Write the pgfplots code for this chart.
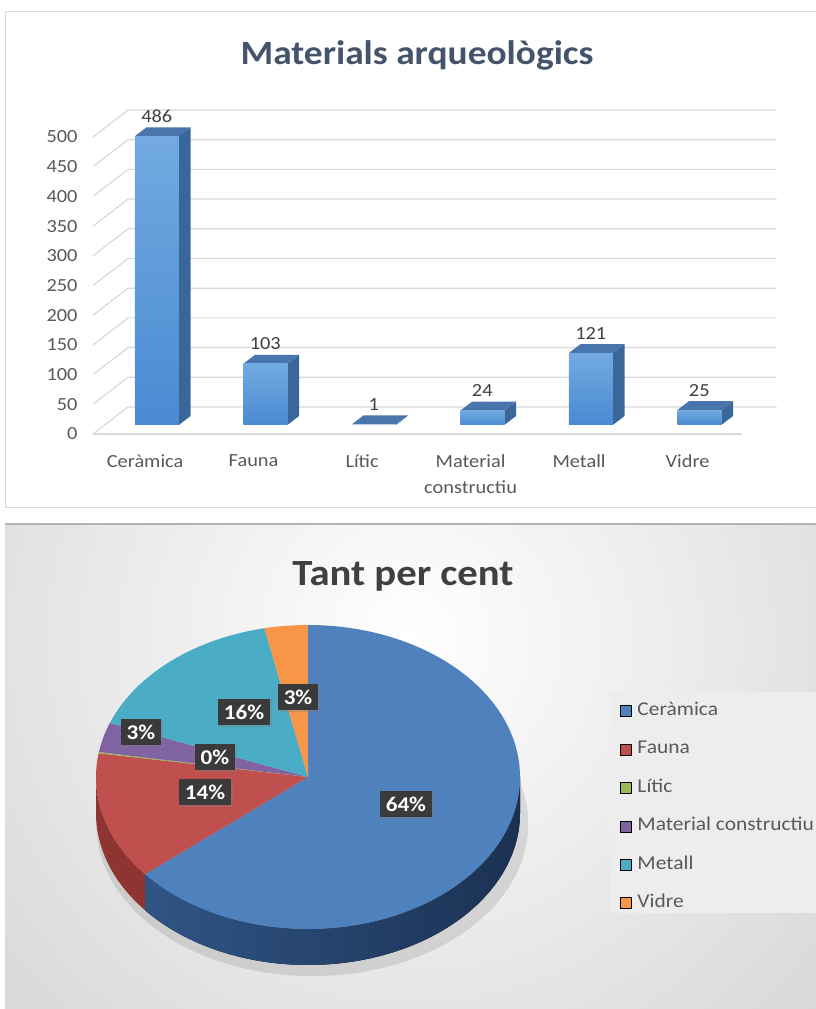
\documentclass[border=0pt]{standalone}
\usepackage{fontspec}
\setmainfont{Carlito}[FakeStretch=1.1]
\usepackage{pgfplots}
\usepackage{pgfplotstable}
\pgfplotsset{compat=1.18}
\usetikzlibrary{shadows}
\definecolor{ttl}{HTML}{44546A}
\definecolor{ttlb}{HTML}{404040}
\definecolor{tickc}{HTML}{595959}
\definecolor{gridc}{HTML}{D9D9D9}
\definecolor{barhi}{HTML}{72AAE1}
\definecolor{barlo}{HTML}{4A8AD2}
\definecolor{barside}{HTML}{3A679A}
\definecolor{bartop}{HTML}{4876AC}
\definecolor{pA}{HTML}{4F81BD}
\definecolor{pB}{HTML}{C0504D}
\definecolor{pC}{HTML}{9BBB59}
\definecolor{pD}{HTML}{8064A2}
\definecolor{pE}{HTML}{4BACC6}
\definecolor{pF}{HTML}{F79646}
\definecolor{sideA1}{HTML}{2F5586}
\definecolor{sideA2}{HTML}{1B3152}
\definecolor{sideB}{HTML}{8E3431}
\definecolor{labbg}{HTML}{3A3A3A}
\tikzset{labbox/.style={fill=labbg, text=white, font=\bfseries\fontsize{21}{25}\selectfont,
    inner xsep=6pt, inner ysep=6pt, drop shadow={shadow xshift=1.5pt, shadow yshift=-1.5pt, opacity=0.35}}}

\pgfplotstableread{
i v
0 486
1 103
2 1
3 24
4 121
5 25
}\bardata

\newcommand\threedbar[2]{%
  \pgfmathsetmacro\xl{#1+0.108-0.203}%
  \pgfmathsetmacro\xr{#1+0.108+0.203}%
  \pgfmathsetmacro\xlb{#1+0.216-0.203}%
  \pgfmathsetmacro\xrb{#1+0.216+0.203}%
  \pgfmathsetmacro\yft{#2+15.15}%
  \pgfmathsetmacro\ybt{#2+30.3}%
  \edef\tmp{%
    \noexpand\addplot[draw=none, fill=barside, forget plot] coordinates {(\xr,15.15) (\xrb,30.3) (\xrb,\ybt) (\xr,\yft) (\xr,15.15)};
    \noexpand\addplot[draw=none, fill=bartop, forget plot] coordinates {(\xl,\yft) (\xlb,\ybt) (\xrb,\ybt) (\xr,\yft) (\xl,\yft)};
    \noexpand\addplot[draw=none, top color=barhi, bottom color=barlo, forget plot] coordinates {(\xl,15.15) (\xl,\yft) (\xr,\yft) (\xr,15.15) (\xl,15.15)};
  }\tmp}

% pie angles (clockwise from 12 o'clock), total 760
\pgfmathsetmacro\aA{90-486/760*360}
\pgfmathsetmacro\aB{\aA-103/760*360}
\pgfmathsetmacro\aC{\aB-1/760*360}
\pgfmathsetmacro\aD{\aC-24/760*360}
\pgfmathsetmacro\aE{\aD-121/760*360}
\pgfmathsetmacro\aF{\aE-25/760*360}

\begin{document}
\begin{tikzpicture}[x=1pt,y=1pt]
\useasboundingbox (0,0) rectangle (815,1009);
\fill[white] (0,0) rectangle (815,1009);
% top panel
\draw[draw=black!15, fill=white, line width=1pt] (5,997) rectangle (830,501);
\node[font=\bfseries\fontsize{34}{40}\selectfont, text=ttl] at (417,954) {Materials arqueològics};
% bottom panel background
\begin{scope}
\clip (5,485) rectangle (830,-10);
\fill[black!25] (5,485) rectangle (830,-10);
\shade[inner color=white, outer color=black!25] (410,369) circle [radius=900];
\draw[black!30, line width=1.5pt] (5,485) -- (830,485);
\end{scope}
\node[font=\bfseries\fontsize{37}{44}\selectfont, text=ttlb] at (403,433) {Tant per cent};
\fill[black!7] (610,317) rectangle (830,96);

\begin{axis}[at={(93pt,575pt)}, anchor=south west,
  x=108.5pt, y=0.594pt,
  xmin=-0.48, xmax=5.5, ymin=0, ymax=550, enlargelimits=false,
  clip=false,
  axis line style={draw=none}, tick style={draw=none},
  ytick={0,50,...,500},
  xtick={0,...,5},
  xticklabels={Ceràmica,Fauna,Lític,{Material\\constructiu},Metall,Vidre},
  xticklabel style={align=center, font=\fontsize{18.5}{26}\selectfont, text=tickc, yshift=-17pt},
  yticklabel style={font=\fontsize{18.5}{22}\selectfont, text=tickc, xshift=-12pt},
  /pgf/number format/assume math mode=true,
]
\pgfplotsinvokeforeach{0,50,...,500}{
  \draw[gridc, line width=1.2pt] (axis cs:-0.48,#1) -- (axis cs:-0.157,{#1+45.45}) -- (axis cs:5.82,{#1+45.45});
}
\draw[gridc, line width=1.2pt] (axis cs:-0.48,0) -- (axis cs:5.5,0);
\threedbar{0}{486}
\threedbar{1}{103}
\threedbar{2}{1}
\threedbar{3}{24}
\threedbar{4}{121}
\threedbar{5}{25}
\addplot[only marks, mark=*, mark size=0pt, mark options={draw=none, fill=none}, forget plot,
  nodes near coords, point meta=explicit symbolic,
  nodes near coords style={anchor=base, yshift=5pt, font=\fontsize{18.5}{22}\selectfont, text=ttlb}]
  table[x expr=\thisrow{i}+0.108, y expr=\thisrow{v}+30.3, meta=v] {\bardata};
\end{axis}

\begin{axis}[at={(308pt,232pt)}, anchor=center,
  x=212pt, y=152pt, xmin=-1, xmax=1, ymin=-1, ymax=1,
  hide axis, clip=false,
  legend image code/.code={\fill[#1] (0pt,-5.5pt) rectangle (11pt,5.5pt);},
  legend style={at={(1.212,0.78)}, anchor=north west, draw=none, fill=none,
    font=\fontsize{19.5}{23}\selectfont, text=tickc,
    nodes={inner sep=0pt, text height=12.5pt, text depth=3.5pt},
    inner xsep=10pt, inner ysep=11pt, row sep=22.4pt, column sep=6pt},
  legend cell align=left,
]
\fill[black, opacity=0.10] (axis cs:0.02,-0.31) ellipse [x radius=216pt, y radius=152pt];
% sides
\fill[left color=sideA1, right color=sideA2] (axis cs:{cos(\aA)},{sin(\aA)}) arc[start angle=\aA, end angle=0, x radius=212pt, y radius=152pt] -- ++(0pt,-36pt) arc[start angle=0, end angle=\aA, x radius=212pt, y radius=152pt] -- cycle;
\fill[sideB] (axis cs:-1,0) arc[start angle=-180, end angle=\aA, x radius=212pt, y radius=152pt] -- ++(0pt,-36pt) arc[start angle=\aA, end angle=-180, x radius=212pt, y radius=152pt] -- cycle;
% top faces
\fill[pA] (axis cs:0,0) -- (axis cs:0,1) arc[start angle=90, end angle=\aA, x radius=212pt, y radius=152pt] -- cycle;
\fill[pB] (axis cs:0,0) -- (axis cs:{cos(\aA)},{sin(\aA)}) arc[start angle=\aA, end angle=\aB, x radius=212pt, y radius=152pt] -- cycle;
\fill[pC] (axis cs:0,0) -- (axis cs:{cos(\aB)},{sin(\aB)}) arc[start angle=\aB, end angle=\aC, x radius=212pt, y radius=152pt] -- cycle;
\fill[pD] (axis cs:0,0) -- (axis cs:{cos(\aC)},{sin(\aC)}) arc[start angle=\aC, end angle=\aD, x radius=212pt, y radius=152pt] -- cycle;
\fill[pE] (axis cs:0,0) -- (axis cs:{cos(\aD)},{sin(\aD)}) arc[start angle=\aD, end angle=\aE, x radius=212pt, y radius=152pt] -- cycle;
\fill[pF] (axis cs:0,0) -- (axis cs:{cos(\aE)},{sin(\aE)}) arc[start angle=\aE, end angle=\aF, x radius=212pt, y radius=152pt] -- cycle;
% labels
\node[labbox] at (axis cs:0.462,-0.178) {64\%};
\node[labbox] at (axis cs:-0.486,-0.099) {14\%};
\node[labbox] at (axis cs:-0.439,0.132) {0\%};
\node[labbox] at (axis cs:-0.788,0.296) {3\%};
\node[labbox] at (axis cs:-0.302,0.428) {16\%};
\node[labbox] at (axis cs:-0.047,0.526) {3\%};
\addlegendimage{fill=pA}\addlegendentry{Ceràmica}
\addlegendimage{fill=pB}\addlegendentry{Fauna}
\addlegendimage{fill=pC}\addlegendentry{Lític}
\addlegendimage{fill=pD}\addlegendentry{Material constructiu}
\addlegendimage{fill=pE}\addlegendentry{Metall}
\addlegendimage{fill=pF}\addlegendentry{Vidre}
\end{axis}
\end{tikzpicture}
\end{document}
